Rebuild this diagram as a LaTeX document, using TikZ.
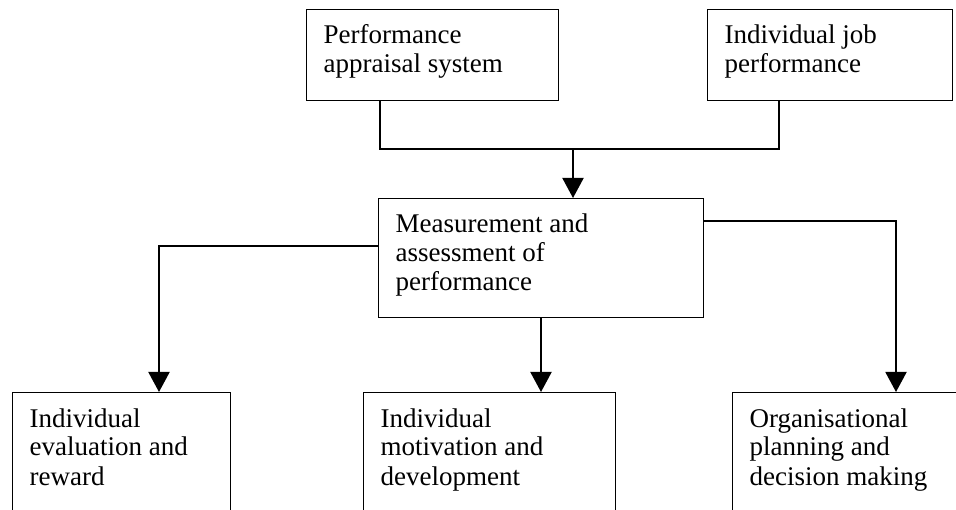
\documentclass[tikz,border=0pt]{standalone}
\usepackage{fontspec}
\setmainfont{Liberation Serif}
\usepackage{tikz}
\usetikzlibrary{arrows.meta,calc}

\newcommand{\boxlines}[3]{\parbox[c][#2][t]{#1}{\raggedright\strut #3}}

\begin{document}
\begin{tikzpicture}[x=1pt,y=-1pt,
  box/.style={draw,line width=1.4pt,anchor=north west,inner xsep=17pt,inner ysep=14pt,
    font=\fontsize{27}{29}\selectfont},
  conn/.style={line width=1.6pt},
  arr/.style={line width=2pt,-{Triangle[length=20pt,width=21pt]}}]
\useasboundingbox (0,0) rectangle (956,510);
% top row
\node[box] (pas) at (306,9) {\boxlines{218pt}{63pt}{Performance\\appraisal system}};
\node[box] (ijp) at (707,9) {\boxlines{211pt}{63pt}{Individual job\\performance}};
% middle
\node[box] (mea) at (378,198) {\boxlines{291pt}{91pt}{Measurement and\\assessment of\\performance}};
% bottom row
\node[box] (ier) at (12,392) {\boxlines{184pt}{112pt}{Individual\\evaluation and\\reward}};
\node[box] (imd) at (363,392) {\boxlines{218pt}{112pt}{Individual\\motivation and\\development}};
\node[box] (opd) at (732,392) {\boxlines{206pt}{112pt}{Organisational\\planning and\\decision making}};
% connectors
\coordinate (join) at (573,149);
\draw[conn] ($(pas.south west)+(74,0)$) |- (join) -| ($(ijp.south west)+(72,0)$);
\draw[arr] (join) -- (join |- mea.north);
\draw[arr] ($(mea.north west)+(0,48)$) -| ($(ier.north west)+(147,0)$);
\draw[arr] ($(mea.south west)+(163,0)$) -- ($(imd.north west)+(178,0)$);
\draw[arr] ($(mea.north east)+(0,23)$) -| ($(opd.north west)+(164,0)$);
\end{tikzpicture}
\end{document}
